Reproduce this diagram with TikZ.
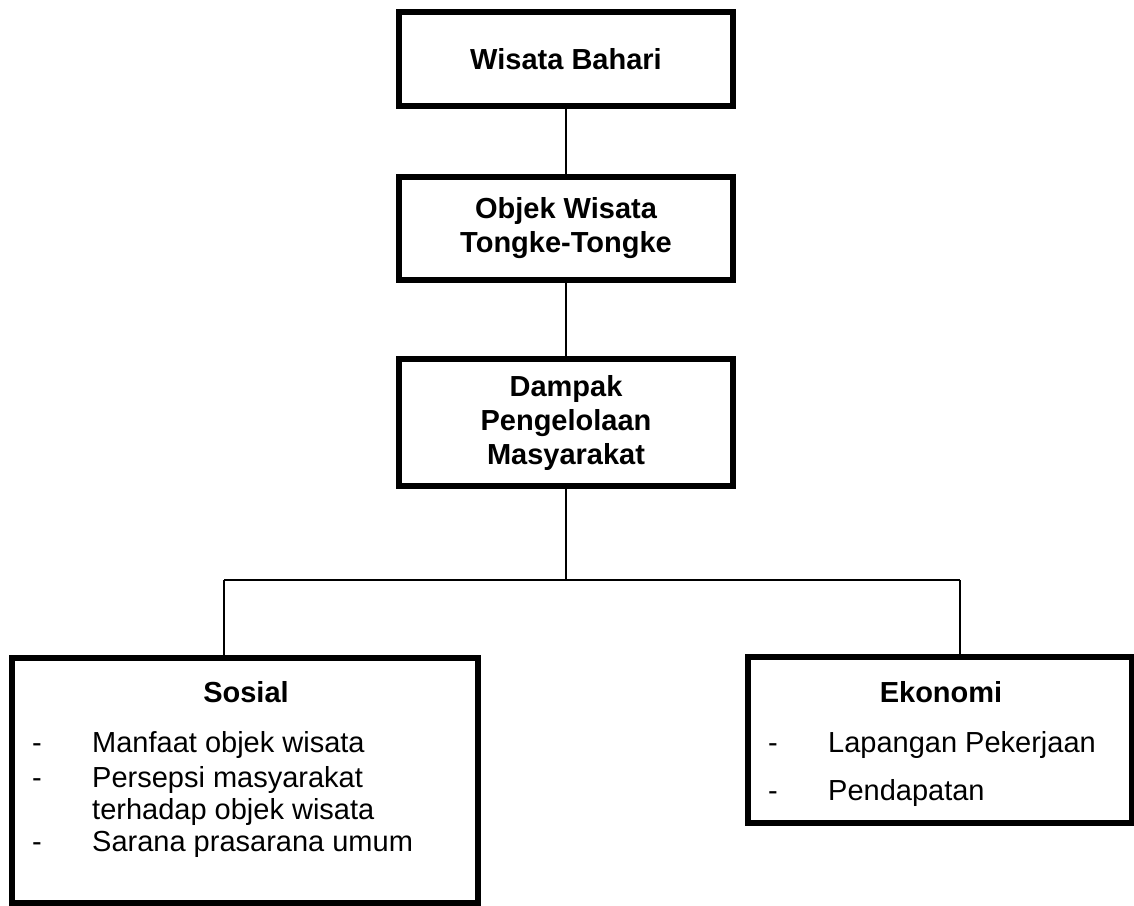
\documentclass[tikz,border=0pt]{standalone}
\usepackage{fontspec}
\setmainfont{Liberation Sans}
\begin{document}
\begin{tikzpicture}[x=1pt,y=-1pt,
  box/.style={draw, line width=5.5pt, rectangle, inner sep=0pt, outer sep=0pt, align=center,
    font=\bfseries\fontsize{29}{34}\selectfont},
  conn/.style={line width=1.6pt},
  title/.style={anchor=base, inner sep=0pt, font=\bfseries\fontsize{29}{34}\selectfont},
  item/.style={anchor=base west, inner sep=0pt, font=\fontsize{29}{34}\selectfont}]
\useasboundingbox (0,0) rectangle (1134,905);
% top boxes
\node[box, minimum width=334pt, minimum height=94pt] (wb) at (566,59) {Wisata Bahari};
\node[box, minimum width=334pt, minimum height=103pt] (ob) at (566,228.5) {Objek Wisata\\Tongke-Tongke};
\node[box, minimum width=334pt, minimum height=127pt] (dp) at (566,422.5) {Dampak\\Pengelolaan\\Masyarakat};
% bottom boxes
\node[box, minimum width=466pt, minimum height=245pt] (so) at (245,780.5) {};
\node[box, minimum width=384pt, minimum height=166pt] (ek) at (940,740) {};
% connectors
\coordinate (j) at (566,580);
\coordinate (jl) at (224,580);
\coordinate (jr) at (960,580);
\draw[conn] (wb.south) -- (ob.north);
\draw[conn] (ob.south) -- (dp.north);
\draw[conn] (dp.south) -- (j);
\draw[conn] (jl) -- (jr);
\draw[conn] (jl) -- (jl |- so.north);
\draw[conn] (jr) -- (jr |- ek.north);
% Sosial content
\node[title] (sot) at (246,702) {Sosial};
\node[item] (sd1) at (32,752) {-};
\node[item] (si1) at (92,752) {Manfaat objek wisata};
\node[item] (sd2) at (32,787) {-};
\node[item] (si2) at (92,787) {Persepsi masyarakat};
\node[item] (si3) at (92,819) {terhadap objek wisata};
\node[item] (sd3) at (32,851) {-};
\node[item] (si4) at (92,851) {Sarana prasarana umum};
% Ekonomi content
\node[title] (ekt) at (941,702) {Ekonomi};
\node[item] (ed1) at (768,752) {-};
\node[item] (ei1) at (828,752) {Lapangan Pekerjaan};
\node[item] (ed2) at (768,800) {-};
\node[item] (ei2) at (828,800) {Pendapatan};
\end{tikzpicture}
\end{document}
